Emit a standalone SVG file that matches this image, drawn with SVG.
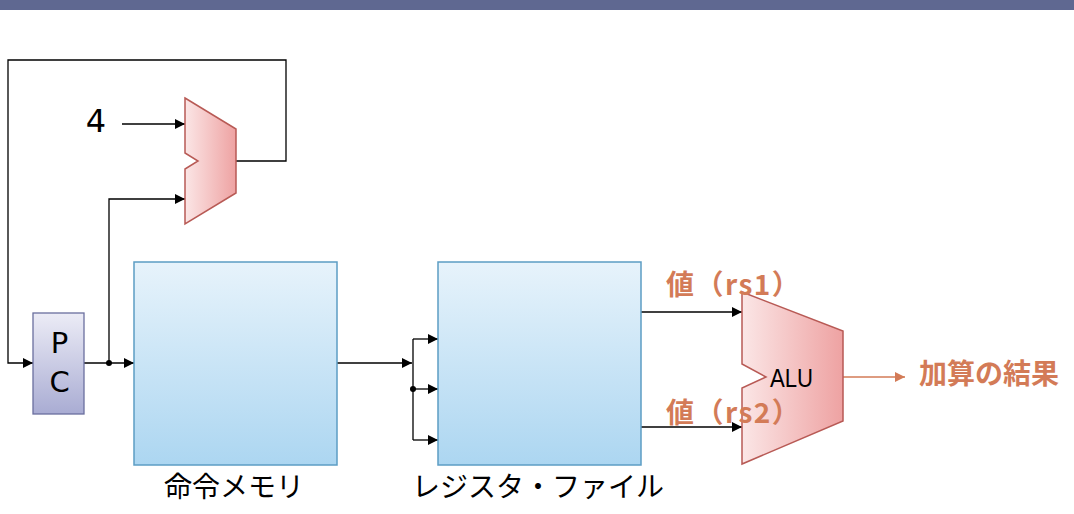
<svg xmlns="http://www.w3.org/2000/svg" width="1074" height="514" viewBox="0 0 1074 514">
<defs>
<linearGradient id="gRed" x1="0" y1="0" x2="1" y2="0">
<stop offset="0" stop-color="#fbe6e6"/>
<stop offset="1" stop-color="#eea2a2"/>
</linearGradient>
<linearGradient id="gBlue" x1="0" y1="0" x2="0" y2="1">
<stop offset="0" stop-color="#e7f3fb"/>
<stop offset="1" stop-color="#acd6f1"/>
</linearGradient>
<linearGradient id="gPC" x1="0" y1="0" x2="0" y2="1">
<stop offset="0" stop-color="#ececf6"/>
<stop offset="1" stop-color="#a9acd3"/>
</linearGradient>
<marker id="arr" viewBox="0 0 10 10" refX="10" refY="5" markerWidth="11" markerHeight="10" markerUnits="userSpaceOnUse" orient="auto">
<path d="M0,0 L10,5 L0,10 Z" fill="#000"/>
</marker>
<marker id="arrO" viewBox="0 0 10 10" refX="10" refY="5" markerWidth="11" markerHeight="10" markerUnits="userSpaceOnUse" orient="auto">
<path d="M0,0 L10,5 L0,10 Z" fill="#d37b57"/>
</marker>
</defs>
<style>
.w{fill:none;stroke:#000;stroke-width:1.3}
.wa{fill:none;stroke:#000;stroke-width:1.3;marker-end:url(#arr)}
.wo{fill:none;stroke:#d37b57;stroke-width:1.4;marker-end:url(#arrO)}
.alu{fill:url(#gRed);stroke:#b85a55;stroke-width:1.5}
.mem{fill:url(#gBlue);stroke:#5c9dc4;stroke-width:1.5}
.jp{font-family:"Noto Sans CJK JP","Noto Sans",sans-serif;font-size:28px;fill:#000}
.or{font-family:"Noto Sans CJK JP","Noto Sans",sans-serif;font-size:28px;font-weight:bold;fill:#d37b57}
.lat{font-family:"DejaVu Sans","Liberation Sans",sans-serif;fill:#000}
</style>
<rect x="0" y="0" width="1074" height="10" fill="#5f6891"/>
<g id="connectors">
<polyline class="wa" points="236,161 286,161 286,60 8,60 8,363 33,363"/>
<line class="wa" x1="122" y1="124" x2="185" y2="124"/>
<polyline class="wa" points="109,363 109,199 185,199"/>
<line class="wa" x1="84" y1="363" x2="134" y2="363"/>
<circle cx="109" cy="363" r="3" fill="#000"/>
<line class="wa" x1="337" y1="363" x2="412" y2="363"/>
<line class="w" x1="413" y1="339" x2="413" y2="440"/>
<line class="wa" x1="413" y1="339" x2="438" y2="339"/>
<line class="wa" x1="413" y1="389" x2="438" y2="389"/>
<line class="wa" x1="413" y1="440" x2="438" y2="440"/>
<circle cx="413" cy="389" r="3" fill="#000"/>
<line class="wa" x1="641" y1="312" x2="742" y2="312"/>
<line class="wa" x1="641" y1="427" x2="742" y2="427"/>
<line class="wo" x1="843" y1="377" x2="905" y2="377"/>
</g>
<g id="const4">
<text class="lat" x="96" y="132" font-size="32" text-anchor="middle">4</text>
</g>
<g id="adder">
<polygon class="alu" points="185,98 236,129 236,193 185,224 185,169 198,161 185,153"/>
</g>
<g id="pc">
<rect x="33" y="313" width="51" height="101" fill="url(#gPC)" stroke="#6a6f9e" stroke-width="1.3"/>
<text class="lat" x="59.5" y="353" font-size="29" text-anchor="middle">P</text>
<text class="lat" x="59.5" y="392" font-size="29" text-anchor="middle">C</text>
</g>
<g id="imem">
<rect class="mem" x="134" y="262" width="203" height="203"/>
<text class="jp" x="234" y="497" text-anchor="middle">命令メモリ</text>
</g>
<g id="regfile">
<rect class="mem" x="438" y="262" width="203" height="203"/>
<text class="jp" x="538" y="497" text-anchor="middle">レジスタ・ファイル</text>
</g>
<g id="alu">
<polygon class="alu" points="742,292 843,331 843,421 742,464 742,388 766,377 742,364"/>
<text x="770" y="387" font-family="Liberation Sans, Arial, sans-serif" font-size="26" textLength="43" lengthAdjust="spacingAndGlyphs" fill="#000">ALU</text>
</g>
<g id="labels">
<text class="or" x="666" y="295" letter-spacing="1.5">値（rs1）</text>
<text class="or" x="666" y="423" letter-spacing="1.5">値（rs2）</text>
<text class="or" x="919" y="384">加算の結果</text>
</g>
</svg>
